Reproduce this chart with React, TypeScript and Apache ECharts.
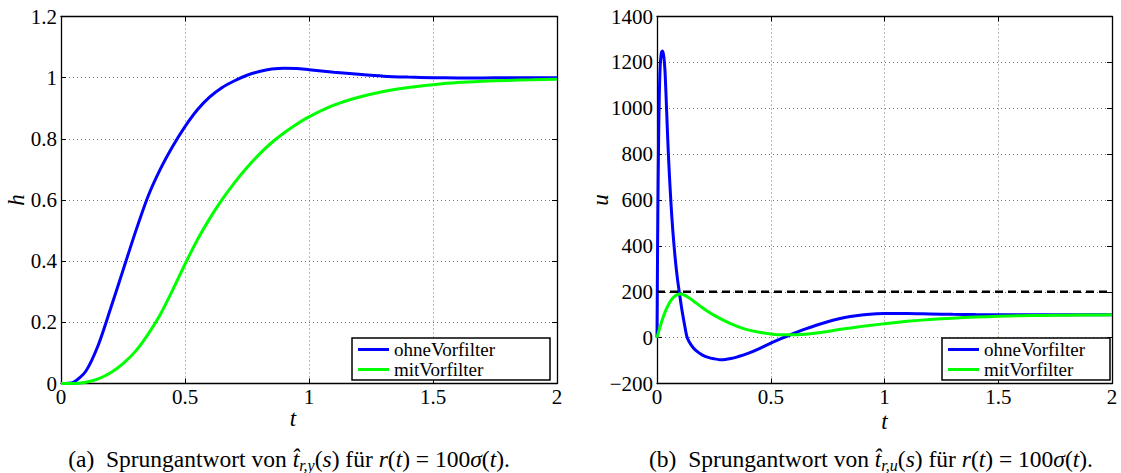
import React, { useEffect, useRef } from "react";
import * as echarts from "echarts";

// Sprungantwort h(t): Zeitachse und Werte
const tH = [0, 0.05, 0.1, 0.15, 0.2, 0.25, 0.3, 0.35, 0.4, 0.45, 0.5, 0.55, 0.6, 0.65, 0.7, 0.75, 0.8, 0.85, 0.9, 0.95, 1.0, 1.1, 1.2, 1.3, 1.4, 1.5, 1.6, 1.7, 1.8, 1.9, 2.0];
const hOhne = [0, 0.004, 0.04, 0.125, 0.245, 0.37, 0.495, 0.61, 0.7, 0.775, 0.84, 0.895, 0.937, 0.968, 0.99, 1.008, 1.02, 1.028, 1.031, 1.03, 1.026, 1.018, 1.011, 1.005, 1.002, 1.0, 0.999, 0.999, 1.0, 1.0, 1.0];
const hMit = [0, 0.0, 0.004, 0.015, 0.035, 0.065, 0.105, 0.16, 0.225, 0.305, 0.39, 0.47, 0.54, 0.602, 0.657, 0.706, 0.75, 0.788, 0.82, 0.848, 0.872, 0.91, 0.936, 0.955, 0.968, 0.977, 0.984, 0.988, 0.991, 0.993, 0.995];

// Stellgröße u(t) ohne Vorfilter
const tUOhne = [0, 0.0025, 0.005, 0.0075, 0.01, 0.0125, 0.015, 0.02, 0.025, 0.03, 0.035, 0.04, 0.045, 0.05, 0.055, 0.06, 0.065, 0.07, 0.075, 0.08, 0.09, 0.1, 0.11, 0.12, 0.13, 0.14, 0.16, 0.18, 0.2, 0.225, 0.25, 0.275, 0.3, 0.325, 0.35, 0.4, 0.45, 0.5, 0.55, 0.6, 0.65, 0.7, 0.75, 0.8, 0.85, 0.9, 0.95, 1.0, 1.1, 1.2, 1.3, 1.4, 1.5, 1.6, 1.7, 1.8, 1.9, 2.0];
const uOhne = [0, 380, 680, 900, 1050, 1145, 1200, 1245, 1250, 1225, 1165, 1050, 920, 800, 700, 610, 530, 460, 400, 345, 255, 185, 118, 62, 10, -16, -45, -63, -76, -86, -92, -96, -95, -91, -85, -69, -48, -24, -2, 18, 37, 54, 69, 82, 92, 99, 103, 105, 105, 103, 101.5, 100.5, 100, 99.8, 99.8, 100, 100, 100];

// Stellgröße u(t) mit Vorfilter
const tUMit = [0, 0.01, 0.02, 0.03, 0.04, 0.05, 0.06, 0.07, 0.08, 0.09, 0.1, 0.11, 0.12, 0.14, 0.16, 0.18, 0.2, 0.22, 0.25, 0.3, 0.35, 0.4, 0.45, 0.5, 0.55, 0.6, 0.65, 0.7, 0.75, 0.8, 0.85, 0.9, 0.95, 1.0, 1.1, 1.2, 1.3, 1.4, 1.5, 1.6, 1.7, 1.8, 1.9, 2.0];
const uMit = [0, 35, 68, 97, 122, 143, 160, 173, 182, 188, 190, 189, 185, 174, 160, 145, 130, 116, 98, 72, 50, 34, 23, 16, 12, 12, 15, 20, 27, 35, 42, 49, 55, 61, 71, 79, 85, 89.5, 93, 95.5, 97, 98, 98.7, 99.2];

// Stellgrößenbeschränkung
const limitT = [0, 2];
const limitU = [200, 200];

const seriesNames = ["ohneVorfilter", "mitVorfilter"];

const SERIF = "'Liberation Serif', 'Times New Roman', serif";
const BLUE = "#0000ff";
const GREEN = "#00ff00";

const zip = (xs: number[], ys: number[]) => xs.map((x, i) => [x, ys[i]]);
const minus = (v: number) => String(v).replace("-", "\u2212");

function axisPair(
  gridIndex: number,
  min: number,
  max: number,
  interval: number,
  isX: boolean,
  name: string,
  nameGap: number,
  namePadding: number[] = [0, 0, 0, 0]
) {
  const common = {
    gridIndex,
    type: "value",
    min,
    max,
    interval,
    axisLine: { show: true, onZero: false, lineStyle: { color: "#000", width: 1.3 } },
    axisTick: { show: true, inside: true, length: 5, lineStyle: { color: "#000", width: 1 } },
  };
  const main = {
    ...common,
    position: isX ? "bottom" : "left",
    name,
    nameLocation: "middle",
    nameGap,
    nameMoveOverlap: false,
    nameTextStyle: {
      fontFamily: SERIF,
      fontStyle: "italic",
      fontSize: 23,
      lineHeight: 18,
      color: "#000",
      padding: namePadding,
    },
    axisLabel: {
      show: true,
      color: "#000",
      fontFamily: SERIF,
      fontSize: 21,
      lineHeight: 17,
      margin: isX ? 5 : 4,
      formatter: minus,
    },
    splitLine: { show: true, lineStyle: { color: "#777", width: 1, type: [1, 3] } },
  };
  const mirror = {
    ...common,
    position: isX ? "top" : "right",
    axisLabel: { show: false },
    splitLine: { show: false },
  };
  return [main, mirror];
}

function lineSeries(name: string, color: string, axisIndex: number, data: number[][]) {
  return {
    type: "line",
    name,
    xAxisIndex: axisIndex,
    yAxisIndex: axisIndex,
    data,
    symbol: "none",
    showSymbol: false,
    smooth: 0.25,
    lineStyle: { color, width: 3 },
    itemStyle: { color },
    emphasis: { disabled: true },
    z: 3,
  };
}

function legendAt(left: number, top: number, textWidth: number) {
  return {
    data: seriesNames,
    left,
    top,
    orient: "vertical",
    itemGap: 1,
    itemWidth: 31,
    itemHeight: 3,
    icon: "rect",
    padding: [2, 4, 1, 6],
    backgroundColor: "#fff",
    borderColor: "#000",
    borderWidth: 1.5,
    borderRadius: 0,
    selectedMode: false,
    textStyle: { fontFamily: SERIF, fontSize: 19, lineHeight: 19, width: textWidth, color: "#000" },
  };
}

const captionRich = {
  n: { fontFamily: SERIF, fontSize: 23.5, lineHeight: 28, color: "#000" },
  i: { fontFamily: SERIF, fontSize: 23.5, fontStyle: "italic", lineHeight: 28, color: "#000" },
  s: { fontFamily: SERIF, fontSize: 16, fontStyle: "italic", lineHeight: 18, verticalAlign: "bottom", color: "#000" },
};

function caption(letter: string, sub: string) {
  return `{n|(${letter})  Sprungantwort von }{i|t\u0302}{s|r,${sub}}{n|(}{i|s}{n|) für }{i|r}{n|(}{i|t}{n|) = 100}{i|σ}{n|(}{i|t}{n|).}`;
}

export default function App() {
  const ref = useRef<HTMLDivElement>(null);

  useEffect(() => {
    if (!ref.current) return;
    const chart = echarts.init(ref.current, undefined, { renderer: "svg" });

    const [x0, x0m] = axisPair(0, 0, 2, 0.5, true, "t", 26, [0, 32, 0, 0]);
    const [y0, y0m] = axisPair(0, 0, 1.2, 0.2, false, "h", 36);
    const [x1, x1m] = axisPair(1, 0, 2, 0.5, true, "t", 29);
    const [y1, y1m] = axisPair(1, -200, 1400, 200, false, "u", 48);

    chart.setOption({
      animation: false,
      backgroundColor: "#fff",
      grid: [
        { left: 61, top: 16.5, width: 496, height: 367 },
        { left: 657, top: 16.5, width: 455, height: 367 },
      ],
      xAxis: [x0, x0m, x1, x1m],
      yAxis: [y0, y0m, y1, y1m],
      legend: [legendAt(352, 338, 152), legendAt(942, 338, 122)],
      series: [
        lineSeries(seriesNames[0], BLUE, 0, zip(tH, hOhne)),
        lineSeries(seriesNames[1], GREEN, 0, zip(tH, hMit)),
        lineSeries(seriesNames[0], BLUE, 2, zip(tUOhne, uOhne)),
        lineSeries(seriesNames[1], GREEN, 2, zip(tUMit, uMit)),
        {
          type: "line",
          name: "Grenze",
          xAxisIndex: 2,
          yAxisIndex: 2,
          data: zip(limitT, limitU),
          symbol: "none",
          silent: true,
          lineStyle: { color: "#000", width: 2.5, type: [8, 5] },
          emphasis: { disabled: true },
          z: 4,
        },
      ],
      graphic: [
        {
          type: "text",
          x: 289,
          y: 459,
          style: { text: caption("a", "y"), rich: captionRich, align: "center", verticalAlign: "middle" },
        },
        {
          type: "text",
          x: 871,
          y: 459,
          style: { text: caption("b", "u"), rich: captionRich, align: "center", verticalAlign: "middle" },
        },
      ],
    });

    return () => chart.dispose();
  }, []);

  return (
    <div
      ref={ref}
      style={{ position: "fixed", left: 0, top: 0, width: 1121, height: 473, background: "#fff" }}
    />
  );
}
